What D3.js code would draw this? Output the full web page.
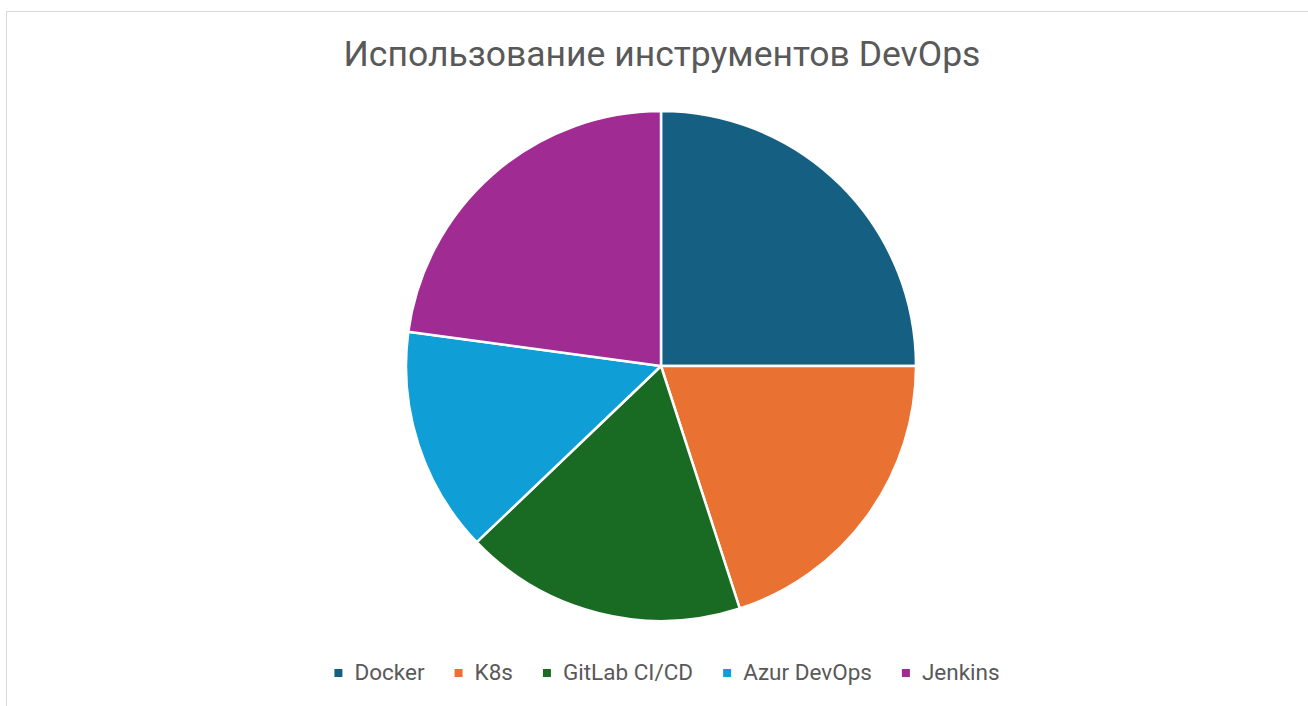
<!DOCTYPE html>
<html>
<head>
<meta charset="utf-8">
<script src="https://cdn.jsdelivr.net/npm/d3@7"></script>
<style>
  html, body { margin: 0; padding: 0; background: #fff; }
  svg { display: block; }
</style>
</head>
<body>
<svg id="chart" width="1308" height="706"></svg>
<script>
const title = "Использование инструментов DevOps";
const categories = ["Docker", "K8s", "GitLab CI/CD", "Azur DevOps", "Jenkins"];
const values = [35, 28, 25, 20, 32];
const colors = ["#156082", "#E97132", "#196B24", "#0F9ED5", "#A02B93"];

const W = 1308, H = 706;
const svg = d3.select("#chart");
const font = "Roboto, 'Open Sans', 'Noto Sans', sans-serif";

// chart frame
svg.append("rect")
  .attr("x", 6.5).attr("y", 11.5)
  .attr("width", W + 10).attr("height", H + 10)
  .attr("fill", "#fff").attr("stroke", "#d9d9d9").attr("stroke-width", 1);

// title
svg.append("text")
  .attr("x", 662).attr("y", 66)
  .attr("text-anchor", "middle")
  .attr("font-family", font)
  .attr("font-size", 35.5)
  .attr("fill", "#595959")
  .text(title);

// pie
const cx = 661, cy = 366, R = 255;
const data = categories.map((c, i) => ({ name: c, value: values[i], color: colors[i] }));
const pie = d3.pie().sort(null).value(d => d.value).startAngle(0).endAngle(2 * Math.PI);
const arc = d3.arc().innerRadius(0).outerRadius(R);
const color = d3.scaleOrdinal().domain(categories).range(colors);

svg.append("g").attr("transform", `translate(${cx},${cy})`)
  .selectAll("path")
  .data(pie(data))
  .join("path")
  .attr("d", arc)
  .attr("fill", d => color(d.data.name))
  .attr("stroke", "#fff")
  .attr("stroke-width", 2.5)
  .attr("stroke-linejoin", "round");

// legend
const legend = svg.append("g");
const items = legend.selectAll("g").data(categories).join("g");
items.append("rect")
  .attr("width", 8).attr("height", 8)
  .attr("y", -4)
  .attr("fill", d => color(d));
items.append("text")
  .attr("x", 20).attr("y", 7)
  .attr("font-family", font)
  .attr("font-size", 22.5)
  .attr("fill", "#595959")
  .text(d => d);
let xoff = 0;
const gap = 30;
items.each(function() {
  const g = d3.select(this);
  const w = 20 + g.select("text").node().getComputedTextLength();
  g.attr("transform", `translate(${xoff},0)`);
  xoff += w + gap;
});
const total = xoff - gap;
legend.attr("transform", `translate(${667 - total / 2},673)`);
</script>
</body>
</html>
